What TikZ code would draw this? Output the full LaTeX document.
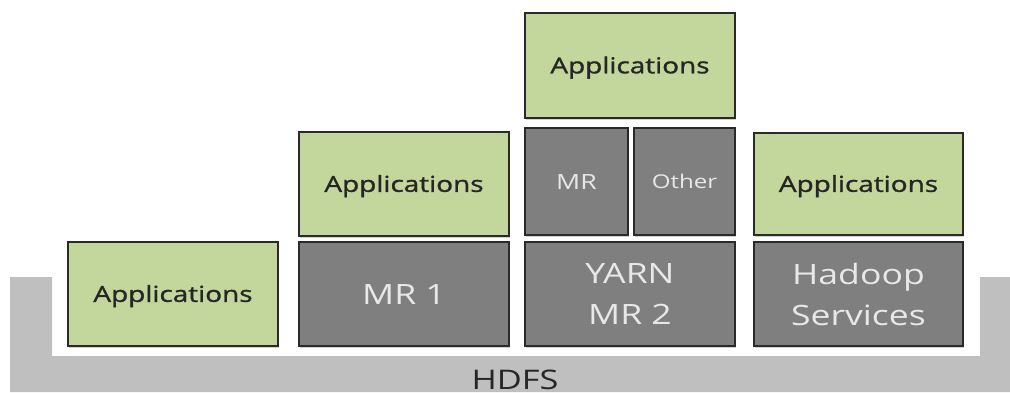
\documentclass[tikz,border=0pt]{standalone}
\usepackage{fontspec}
\setmainfont[FakeStretch=1.27]{Open Sans}
\newfontfamily\heavyfont[FakeStretch=1.27, FakeBold=1.3]{Open Sans}
\usetikzlibrary{shadows}
\definecolor{appgreen}{HTML}{C3D69B}
\definecolor{svcgray}{HTML}{7F7F7F}
\definecolor{edgedark}{HTML}{2A2A2A}
\definecolor{hdfsgray}{HTML}{BFBFBF}
\definecolor{lighttext}{HTML}{E8E8E8}
\definecolor{darktext}{HTML}{262626}
\tikzset{
  layer/.style={draw=edgedark, line width=1.8pt, inner sep=0pt,
    drop shadow={shadow xshift=0.5pt, shadow yshift=-2pt, opacity=0.18, fill=black}},
  appbox/.style={layer, fill=appgreen, text=darktext,
    font=\heavyfont\fontsize{22}{26}\selectfont, text height=15.7pt, text depth=0pt},
  svcbox/.style={layer, fill=svcgray, text=lighttext,
    font=\fontsize{28}{41}\selectfont, align=center},
  smallsvc/.style={layer, fill=svcgray, text=lighttext},
  full/.style={minimum width=210pt, minimum height=104pt}
}
\begin{document}
\begin{tikzpicture}[x=1pt, y=-1pt]
  \useasboundingbox (0,0) rectangle (1010,392);
  % HDFS base layer
  \fill[hdfsgray] (10,277) -- (52,277) -- (52,356) -- (980,356) -- (980,277)
    -- (1010,277) -- (1010,392) -- (10,392) -- cycle;
  \node[text=darktext, font=\fontsize{27}{30}\selectfont, anchor=base,
    inner sep=0pt] (hdfs) at (515,389.5) {HDFS};

  % Column 1: applications straight on HDFS
  \node[appbox, full] (app0) at (173,294) {Applications};

  % Column 2: MapReduce 1
  \node[svcbox, full, text height=20pt, text depth=0pt] (mr1) at (404,294) {MR 1};
  \node[appbox, full] (app1) at (404,184) {Applications};

  % Column 3: YARN with MR and other frameworks
  \node[svcbox, full] (yarn) at (630,294) {YARN\\MR 2};
  \node[smallsvc, minimum width=103pt, minimum height=107pt,
    font=\fontsize{21}{24}\selectfont, text height=15pt, text depth=0pt]
    (mr) at (576.5,181.5) {MR};
  \node[smallsvc, minimum width=101pt, minimum height=107pt,
    font=\fontsize{19}{22}\selectfont, text height=13.5pt, text depth=0pt]
    (other) at (684.5,181.5) {Other};
  \node[appbox, minimum width=210pt, minimum height=105pt] (app2) at (630,65.5) {Applications};

  % Column 4: other Hadoop services
  \node[svcbox, minimum width=209pt, minimum height=104pt] (hadoop) at (858.5,294) {Hadoop\\Services};
  \node[appbox, minimum width=209pt, minimum height=102pt] (app3) at (858.5,184) {Applications};
\end{tikzpicture}
\end{document}
